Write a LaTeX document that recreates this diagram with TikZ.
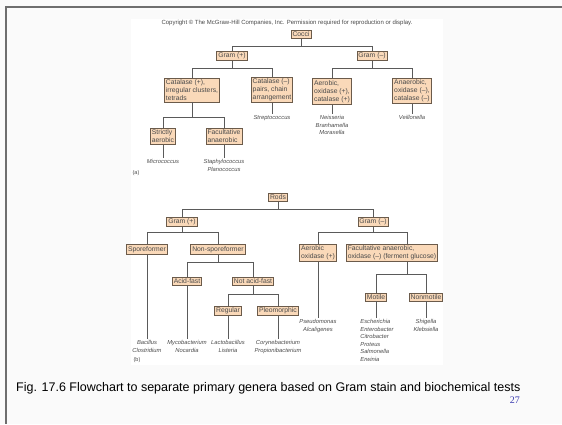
\documentclass[tikz,border=0pt]{standalone}
\usepackage{fontspec}
\setmainfont{Liberation Sans}
\newfontfamily\pagenumfont{Liberation Serif}

\definecolor{boxfill}{HTML}{FAD9B9}
\definecolor{boxline}{HTML}{6B5B4B}
\definecolor{linkgray}{HTML}{5A5A5A}
\definecolor{textgray}{HTML}{4A4A4A}
\definecolor{slidebg}{HTML}{FAFAFA}
\definecolor{framegray}{HTML}{6E6E6E}
\definecolor{numblue}{HTML}{3A3AB0}

\begin{document}
\begin{tikzpicture}[ x=1pt, y=-1pt,
    test/.style={draw=boxline, fill=boxfill, line width=0.7pt, inner sep=1.5pt,
        font=\fontsize{6.8}{8}\selectfont, text=textgray, align=left},
    genus/.style={anchor=north, align=center, inner sep=1.5pt,
        font=\fontsize{5.8}{7.5}\selectfont\itshape, text=textgray},
    link/.style={draw=linkgray, line width=0.8pt},
    tag/.style={font=\fontsize{5.5}{6.5}\selectfont, text=textgray} ]

% Folie

    \fill[slidebg] (0,0) rectangle (562,424);
    \useasboundingbox (0,0) rectangle (562,424);
    \fill[white] (131,19) rectangle (443,365);
    \draw[framegray, line width=1.6pt] (5,7) -- (562,7);
    \draw[framegray, line width=1.6pt] (6,7) -- (6,424);

    \node[tag, font=\fontsize{6}{7}\selectfont] (copy) at (287,23)
        {Copyright \textcopyright{} The McGraw-Hill Companies, Inc. Permission required for reproduction or display.};

% (a) Cocci

    \node[test] (cocci)   at (301,34.5) {Cocci};
    \node[test] (gpos)    at (232,56)   {Gram (+)};
    \node[test] (gneg)    at (372,56)   {Gram (–)};
    \node[test] (catpos)  at (192,90)   {Catalase (+),\\irregular clusters,\\tetrads};
    \node[test] (catneg)  at (272,90)   {Catalase (–)\\pairs, chain\\arrangement};
    \node[test] (aerob)   at (332,91.5) {Aerobic,\\oxidase (+),\\catalase (+)};
    \node[test] (anaerob) at (412,91)   {Anaerobic,\\oxidase (–),\\catalase (–)};
    \node[test] (strict)  at (163,136.5) {Strictly\\aerobic};
    \node[test] (facul)   at (224,136.5) {Facultative\\anaerobic};

    \node[genus] (strep) at (272,114) {Streptococcus};
    \node[genus] (neis)  at (332,114) {Neisseria\\Branhamella\\Moraxella};
    \node[genus] (veil)  at (412,114) {Veillonella};
    \node[genus] (micro) at (163,158) {Micrococcus};
    \node[genus] (staph) at (224,158) {Staphylococcus\\Planococcus};
    \node[tag] (parta) at (136,173) {(a)};

    \draw[link] (cocci.south) -- ++(0,8) -| (gpos.north);
    \draw[link] (cocci.south) -- ++(0,8) -| (gneg.north);
    \draw[link] (gpos.south) -- ++(0,7) -| (catpos.north);
    \draw[link] (gpos.south) -- ++(0,7) -| (catneg.north);
    \draw[link] (gneg.south) -- ++(0,7) -| (aerob.north);
    \draw[link] (gneg.south) -- ++(0,7) -| (anaerob.north);
    \draw[link] (catpos.south) -- ++(0,15) -| (strict.north);
    \draw[link] (catpos.south) -- ++(0,15) -| (facul.north);
    \draw[link] (catneg.south) -- (strep.north);
    \draw[link] (aerob.south) -- (neis.north);
    \draw[link] (anaerob.south) -- (veil.north);
    \draw[link] (strict.south) -- (micro.north);
    \draw[link] (facul.south) -- (staph.north);

% (b) Rods

    \node[test] (rods)     at (278,197.5) {Rods};
    \node[test] (gpos2)    at (182,222)   {Gram (+)};
    \node[test] (gneg2)    at (373,222)   {Gram (–)};
    \node[test] (spore)    at (147,249.5) {Sporeformer};
    \node[test] (nonspore) at (218,249.5) {Non-sporeformer};
    \node[test] (acid)     at (187,281)   {Acid-fast};
    \node[test] (notacid)  at (253,281)   {Not acid-fast};
    \node[test] (regular)  at (228,311)   {Regular};
    \node[test] (pleo)     at (278,311)   {Pleomorphic};
    \node[test] (aerox)    at (318,253)   {Aerobic\\oxidase (+)};
    \node[test] (facan)    at (392,253)   {Facultative anaerobic,\\oxidase (–) (ferment glucose)};
    \node[test] (motile)   at (376,297)   {Motile};
    \node[test] (nonmot)   at (426,297)   {Nonmotile};
    \coordinate (facx) at (407,0);

    \node[genus] (bacil)  at (147,339) {Bacillus\\Clostridium};
    \node[genus] (myco)   at (187,339) {Mycobacterium\\Nocardia};
    \node[genus] (lacto)  at (228,339) {Lactobacillus\\Listeria};
    \node[genus] (coryne) at (278,339) {Corynebacterium\\Propionibacterium};
    \node[genus] (pseudo) at (318,318) {Pseudomonas\\Alcaligenes};
    \node[genus, align=left] (esch) at (377,318)
        {Escherichia\\Enterobacter\\Citrobacter\\Proteus\\Salmonella\\Erwinia};
    \node[genus] (shig)   at (426,318) {Shigella\\Klebsiella};
    \node[tag] (partb) at (137,360) {(b)};

    \draw[link] (rods.south) -- ++(0,8) -| (gpos2.north);
    \draw[link] (rods.south) -- ++(0,8) -| (gneg2.north);
    \draw[link] (gpos2.south) -- ++(0,5) -| (spore.north);
    \draw[link] (gpos2.south) -- ++(0,5) -| (nonspore.north);
    \draw[link] (nonspore.south) -- ++(0,8) -| (acid.north);
    \draw[link] (nonspore.south) -- ++(0,8) -| (notacid.north);
    \draw[link] (notacid.south) -- ++(0,9) -| (regular.north);
    \draw[link] (notacid.south) -- ++(0,9) -| (pleo.north);
    \draw[link] (gneg2.south) -- ++(0,5) -| (aerox.north);
    \draw[link] (gneg2.south) -- ++(0,5) -| (facan.north -| facx);
    \draw[link] (facan.south -| facx) -- ++(0,12) -| (motile.north);
    \draw[link] (facan.south -| facx) -- ++(0,12) -| (nonmot.north);
    \draw[link] (spore.south) -- (bacil.north);
    \draw[link] (acid.south) -- (myco.north);
    \draw[link] (regular.south) -- (lacto.north);
    \draw[link] (pleo.south) -- (coryne.north);
    \draw[link] (aerox.south) -- (pseudo.north);
    \draw[link] (motile.south) -- (motile.south |- esch.north);
    \draw[link] (nonmot.south) -- (shig.north);

% Bildunterschrift

    \node[anchor=base west, inner sep=0pt, font=\fontsize{12.5}{14}\selectfont] (caption) at (16,391)
        {Fig. 17.6 Flowchart to separate primary genera based on Gram stain and biochemical tests};
    \node[anchor=base east, inner sep=0pt, text=numblue, font=\pagenumfont\fontsize{10}{11}\selectfont] (pagenum) at (520,403) {27};

\end{tikzpicture}
\end{document}
